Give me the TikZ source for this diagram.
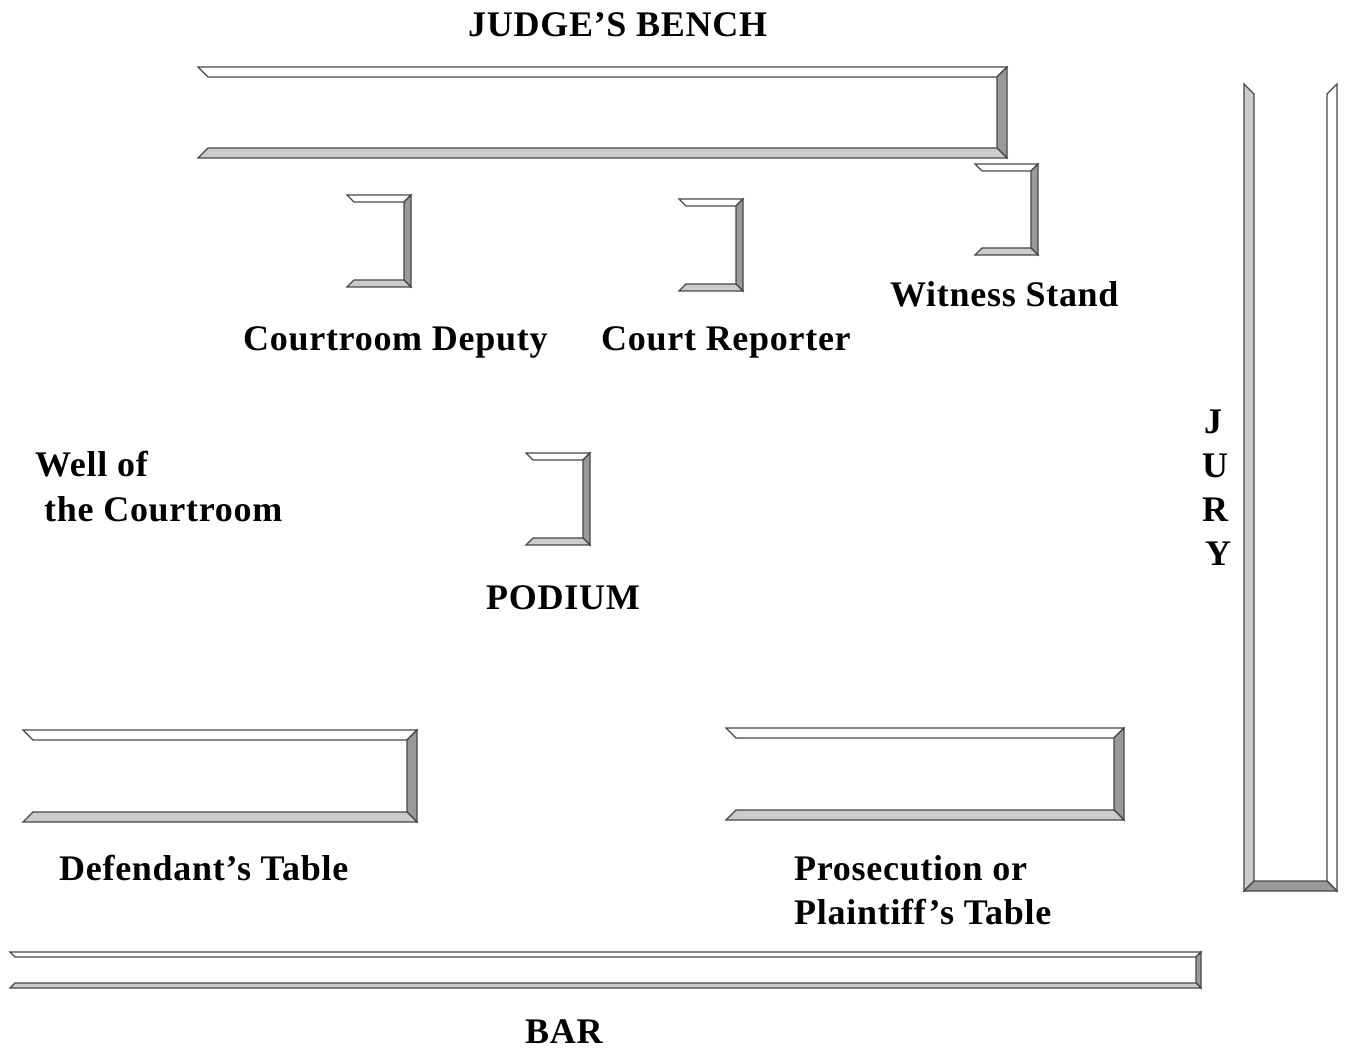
\documentclass[tikz,border=0pt]{standalone}
\usepackage{fontspec}
\setmainfont[LetterSpace=2]{Liberation Serif}
\tikzset{
	x=1pt,y=-1pt,
	edge/.style={draw=black!72,line width=1.1pt,line join=miter},
	lbl/.style={anchor=base west,inner sep=0pt,font=\fontsize{36}{44}\selectfont\bfseries},
}
% A rail open to the left: left, top, right, bottom, bevel
\newcommand{\rail}[5]{
	\coordinate (a) at (#1,#2);
	\coordinate (b) at (#3,#2);
	\coordinate (c) at (#3,#4);
	\coordinate (d) at (#1,#4);
	\coordinate (ia) at (#1+#5,#2+#5);
	\coordinate (ib) at (#3-#5,#2+#5);
	\coordinate (ic) at (#3-#5,#4-#5);
	\coordinate (id) at (#1+#5,#4-#5);
	\draw [edge,fill=white] (a) -- (b) -- (ib) -- (ia) -- cycle;
	\draw [edge,fill=black!40] (b) -- (c) -- (ic) -- (ib) -- cycle;
	\draw [edge,fill=black!20] (d) -- (c) -- (ic) -- (id) -- cycle;
}
\begin{document}
\begin{tikzpicture}
	    \useasboundingbox (0,0) rectangle (1346,1048);

	    % The long rails and the small stands
	    \rail{198}{67}{1007}{158}{10}
	    \rail{975}{164}{1038}{255}{7}
	    \rail{347}{195}{411}{287}{7}
	    \rail{679}{199}{743}{291}{7}
	    \rail{526}{453}{590}{545}{7}
	    \rail{23}{730}{417}{822}{10}
	    \rail{726}{728}{1124}{820}{10}
	    \rail{10}{952}{1201}{988}{5}

	    % The jury box is open at the top
	    \coordinate (jury a) at (1244,84);
	    \coordinate (jury b) at (1337,84);
	    \coordinate (jury c) at (1337,891);
	    \coordinate (jury d) at (1244,891);
	    \coordinate (jury ia) at (1254,94);
	    \coordinate (jury ib) at (1327,94);
	    \coordinate (jury ic) at (1327,881);
	    \coordinate (jury id) at (1254,881);
	    \draw [edge,fill=black!20] (jury a) -- (jury ia) -- (jury id) -- (jury d) -- cycle;
	    \draw [edge,fill=white] (jury b) -- (jury ib) -- (jury ic) -- (jury c) -- cycle;
	    \draw [edge,fill=black!40] (jury d) -- (jury id) -- (jury ic) -- (jury c) -- cycle;

	    % Labels
	    \node [lbl] (bench) at (468,36.7) {JUDGE’S BENCH};
	    \node [lbl] (witness) at (890,306.7) {Witness Stand};
	    \node [lbl] (deputy) at (243,350.7) {Courtroom Deputy};
	    \node [lbl] (reporter) at (601,350.7) {Court Reporter};
	    \node [lbl] (well) at (35,476.7) {Well of};
	    \node [lbl] (courtroom) at (44,521) {the Courtroom};
	    \node [lbl] (podium) at (486,609) {PODIUM};
	    \node [lbl] (defendant) at (59,880) {Defendant’s Table};
	    \node [lbl] (prosecution) at (794,880) {Prosecution or};
	    \node [lbl] (plaintiff) at (794,924) {Plaintiff’s Table};
	    \node [lbl] (bar) at (525,1043.5) {BAR};
	    \node [lbl] (j) at (1204,433.7) {J};
	    \node [lbl] (u) at (1202,477.7) {U};
	    \node [lbl] (r) at (1202,521.7) {R};
	    \node [lbl] (y) at (1205,565.7) {Y};
\end{tikzpicture}
\end{document}
